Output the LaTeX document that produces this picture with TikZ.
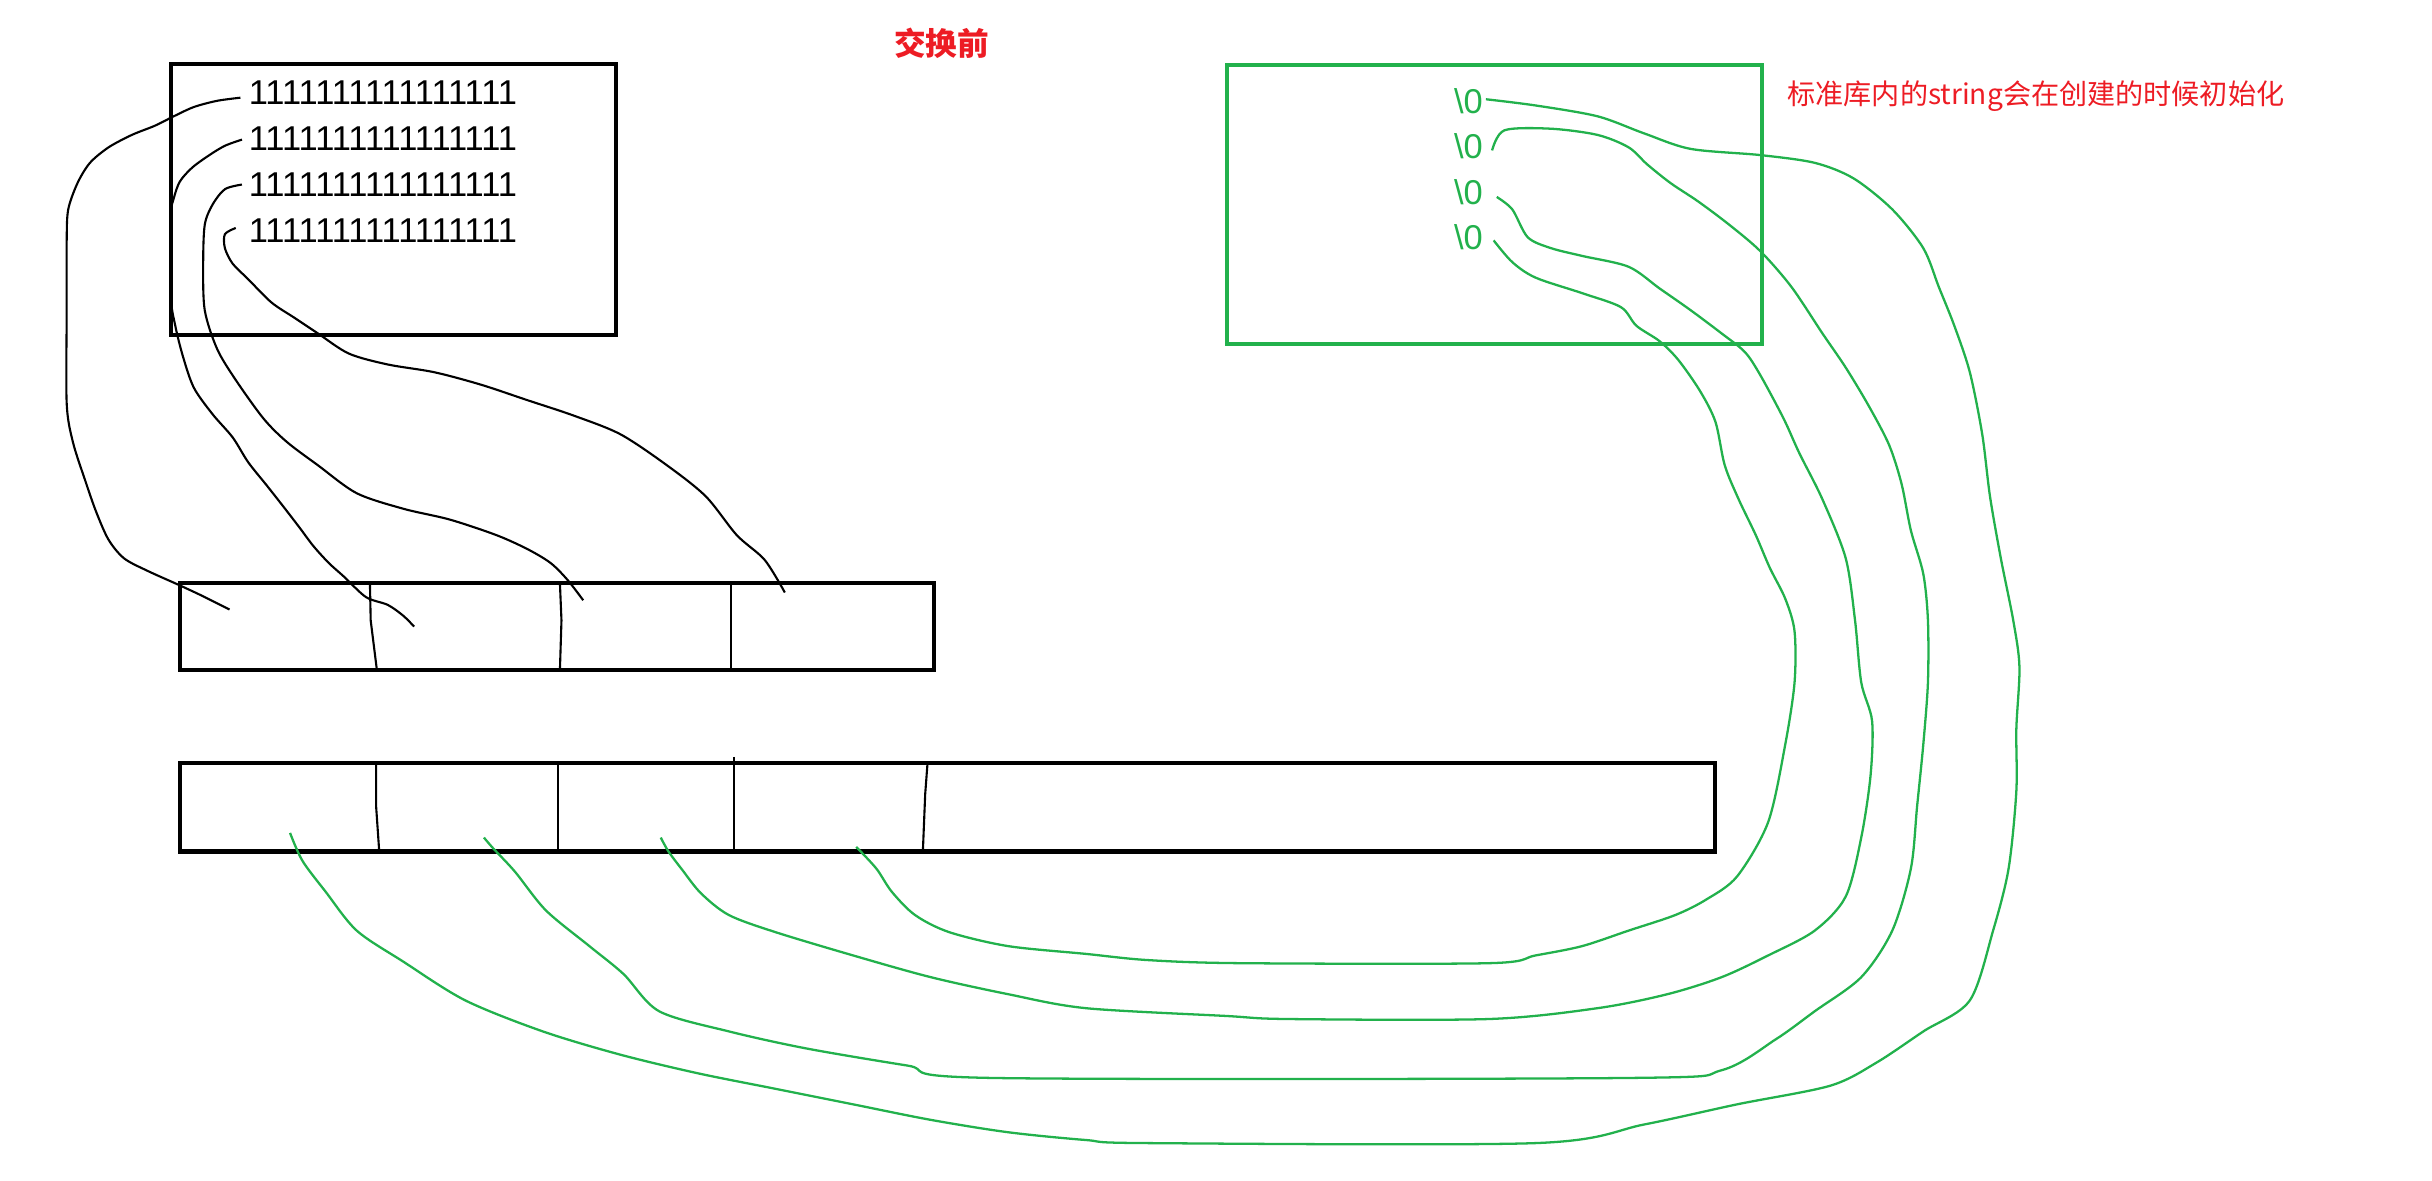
\documentclass[tikz,border=0pt]{standalone}
\usepackage{fontspec}
\setmainfont{Noto Sans CJK SC}
\newfontfamily\digitfont{Liberation Sans}
\definecolor{pgreen}{RGB}{34,177,76}
\definecolor{pred}{RGB}{237,28,36}
\tikzset{
  boxline/.style={line width=1.15pt},
  thin/.style={line width=0.6pt},
  gline/.style={draw=pgreen, line width=0.65pt},
  bline/.style={draw=black, line width=0.6pt},
  ones/.style={anchor=west, inner sep=0pt, font=\digitfont\fontsize{9.8pt}{10pt}\selectfont},
  zero/.style={anchor=west, inner sep=0pt, text=pgreen, font=\digitfont\fontsize{9.8pt}{10pt}\selectfont},
}
\begin{document}
\begin{tikzpicture}[x=0.01551cm, y=-0.01551cm]
\useasboundingbox (0,0) rectangle (1568,761);
% title and annotation
\node[text=pred, font=\fontsize{9pt}{10pt}\selectfont\bfseries, inner sep=0pt] (title) at (607,28) {交换前};
\node[text=pred, anchor=west, inner sep=0pt, font=\fontsize{8pt}{9pt}\selectfont] (note) at (1152,62) {标准库内的string会在创建的时候初始化};
% black memory box
\draw[boxline] (110,41) rectangle (397,216);
\node[ones] (r1) at (160,60) {1111111111111111};
\node[ones] (r2) at (160,89.5) {1111111111111111};
\node[ones] (r3) at (160,119) {1111111111111111};
\node[ones] (r4) at (160,149) {1111111111111111};
% green box
\draw[boxline, draw=pgreen] (791,42) rectangle (1136,222);
\node[zero] (z1) at (937,65) {\textbackslash 0};
\node[zero] (z2) at (937,94) {\textbackslash 0};
\node[zero] (z3) at (937,124) {\textbackslash 0};
\node[zero] (z4) at (937,153) {\textbackslash 0};
% top array
\draw[boxline] (116,376) rectangle (602,432);
\draw[thin] (238.5,376) -- (239,400) -- (243,432);
\draw[thin] (361,376) -- (362,400) -- (361,432);
\draw[thin] (471.5,376) -- (471.5,432);
% bottom array
\draw[boxline] (116,492) rectangle (1106,549);
\draw[thin] (242.5,492) -- (242.5,520) -- (244.5,549);
\draw[thin] (359.5,492) -- (359.5,549);
\draw[thin] (473,488) -- (473,549);
\draw[thin] (598,492) -- (596.5,512) -- (595,549);
% endpoints
\coordinate (a0) at (155,63);  \coordinate (a1) at (148,393);
\coordinate (b0) at (156,90);  \coordinate (b1) at (267,404);
\coordinate (c0) at (156,119); \coordinate (c1) at (376,387);
\coordinate (d0) at (152,147); \coordinate (d1) at (506,382);
\coordinate (g10) at (958,64);  \coordinate (g11) at (187,537);
\coordinate (g20) at (962,97);  \coordinate (g21) at (312,540);
\coordinate (g30) at (965,127); \coordinate (g31) at (426,540);
\coordinate (g40) at (963,155); \coordinate (g41) at (552,546);
% black connectors
\draw[bline] plot[smooth, tension=0.5] coordinates {(a0) (140,65) (125,69) (112,75) (100,81) (85,87) (70,95) (58,105) (50,118) (44,135) (43,155) (43,200) (43,260) (47,285) (55,310) (62,330) (70,348) (80,360) (95,368) (115,377) (130,384) (a1)};
\draw[bline] plot[smooth, tension=0.5] coordinates {(b0) (145,94) (135,100) (124,108) (116,117) (112,128) (110,140) (110,190) (113,210) (118,230) (125,250) (137,267) (150,282) (160,298) (172,313) (183,327) (193,340) (202,352) (212,363) (222,372) (236,385) (250,390) (260,397) (b1)};
\draw[bline] plot[smooth, tension=0.5] coordinates {(c0) (145,122) (137,132) (132,145) (131,170) (132,200) (140,225) (152,245) (170,270) (185,285) (205,300) (230,318) (260,328) (290,335) (320,345) (340,354) (355,363) (366,374) (c1)};
\draw[bline] plot[smooth, tension=0.5] coordinates {(d0) (145,151) (145,160) (150,170) (160,180) (175,195) (190,205) (205,215) (225,228) (250,235) (280,240) (310,248) (340,258) (370,268) (400,280) (430,300) (455,320) (475,345) (493,361) (d1)};
% green connectors
\draw[gline] plot[smooth, tension=0.5] coordinates {(g10) (990,68) (1030,75) (1060,86) (1090,96) (1135,100) (1170,105) (1195,115) (1220,135) (1240,160) (1250,185) (1260,210) (1270,240) (1278,280) (1283,320) (1290,360) (1298,400) (1302,430) (1300,470) (1300,510) (1295,560) (1285,600) (1270,645) (1240,665) (1210,685) (1180,700) (1120,712) (1060,725) (990,737) (740,737) (700,735) (650,730) (600,722) (550,712) (500,702) (450,692) (400,680) (350,665) (300,645) (260,620) (230,600) (210,575) (195,555) (g11)};
\draw[gline] plot[smooth, tension=0.5] coordinates {(g20) (970,84) (1000,83) (1030,87) (1050,95) (1062,106) (1077,118) (1095,130) (1115,145) (1135,162) (1155,185) (1175,215) (1190,237) (1205,262) (1218,287) (1226,312) (1232,342) (1240,370) (1243,400) (1243,440) (1240,480) (1236,520) (1232,560) (1220,600) (1200,630) (1170,652) (1145,670) (1110,690) (1050,695) (640,695) (585,687) (520,676) (470,665) (425,652) (402,628) (380,610) (352,587) (332,562) (318,547) (g21)};
\draw[gline] plot[smooth, tension=0.5] coordinates {(g30) (975,135) (985,153) (1000,160) (1020,165) (1050,172) (1070,186) (1090,200) (1110,215) (1125,227) (1135,242) (1150,270) (1160,292) (1175,322) (1190,360) (1196,400) (1200,440) (1207,465) (1206,500) (1200,540) (1190,578) (1170,600) (1140,616) (1110,630) (1075,641) (1030,650) (960,657) (830,657) (790,655) (700,650) (650,641) (600,630) (550,616) (500,601) (470,590) (452,576) (440,561) (431,549) (g31)};
\draw[gline] plot[smooth, tension=0.5] coordinates {(g40) (975,169) (990,179) (1020,189) (1045,198) (1055,210) (1070,220) (1082,232) (1096,252) (1106,272) (1112,300) (1121,322) (1132,345) (1141,366) (1151,386) (1157,407) (1157,440) (1151,480) (1140,530) (1120,565) (1100,580) (1080,590) (1050,600) (1020,610) (990,616) (960,621) (800,621) (740,619) (700,615) (650,610) (612,601) (590,590) (575,575) (565,560) (g41)};
\end{tikzpicture}
\end{document}
